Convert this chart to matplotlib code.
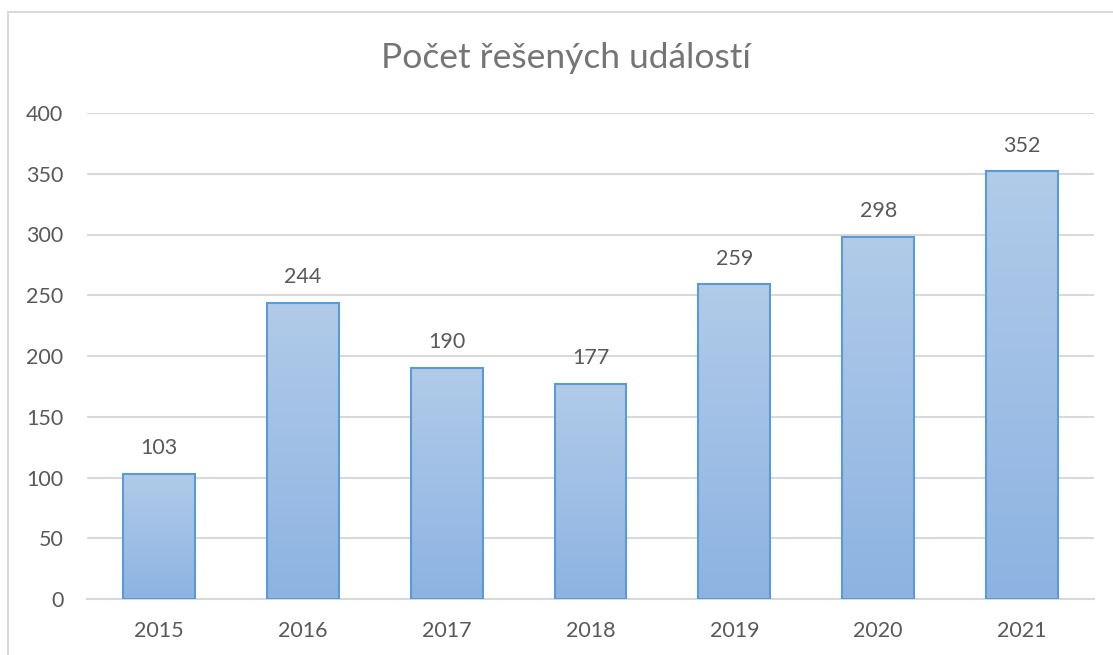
import matplotlib.pyplot as plt
import numpy as np
from matplotlib.patches import Rectangle
from matplotlib.colors import LinearSegmentedColormap

years = ['2015', '2016', '2017', '2018', '2019', '2020', '2021']
counts = [103, 244, 190, 177, 259, 298, 352]
title = 'Počet řešených událostí'

plt.rcParams['font.family'] = ['Lato', 'DejaVu Sans']

fig = plt.figure(figsize=(11.13, 6.55), dpi=100)
# chart frame
fig.patches.append(Rectangle((8 / 1113, -0.01), 1.2, 1 - 12 / 655 + 0.01,
                             transform=fig.transFigure, fill=False,
                             edgecolor='#d9d9d9', lw=1.5))
ax = fig.add_axes([87 / 1113, 1 - 599 / 655, (1094 - 87) / 1113, (599 - 113) / 655])

x = np.arange(len(years))
bars = ax.bar(x, counts, width=0.5, color='none', edgecolor='#5b9bd5', lw=1.5, zorder=3)

# vertical gradient inside each bar
grad = np.linspace(0, 1, 256).reshape(-1, 1)
cmap = LinearSegmentedColormap.from_list('g', ['#8db3e2', '#b1cbe9'])
for b in bars:
    x0, w, h = b.get_x(), b.get_width(), b.get_height()
    im = ax.imshow(grad, extent=[x0, x0 + w, 0, h], origin='lower', cmap=cmap,
                   aspect='auto', zorder=2)
    im.set_clip_path(b)

for xi, v in zip(x, counts):
    ax.text(xi, v + 13, str(v), ha='center', va='bottom', fontsize=15.5, color='#595959')

ax.set_xlim(-0.5, 6.5)
ax.set_ylim(0, 400)
ax.set_yticks(range(0, 401, 50))
ax.set_xticks(x)
ax.set_xticklabels(years)
ax.grid(axis='y', color='#d9d9d9', lw=1.5, zorder=0)
ax.tick_params(length=0, labelsize=15.5, labelcolor='#595959')
ax.tick_params(axis='y', pad=17)
ax.tick_params(axis='x', pad=16)
for s in ['top', 'right', 'left']:
    ax.spines[s].set_visible(False)
ax.spines['bottom'].set_color('#d9d9d9')
ax.spines['bottom'].set_linewidth(1.5)

fig.text(566 / 1113, 1 - 58 / 655, title, ha='center', va='center', fontsize=25.5, color='#757575')

fig.savefig('out.png', dpi=100)
